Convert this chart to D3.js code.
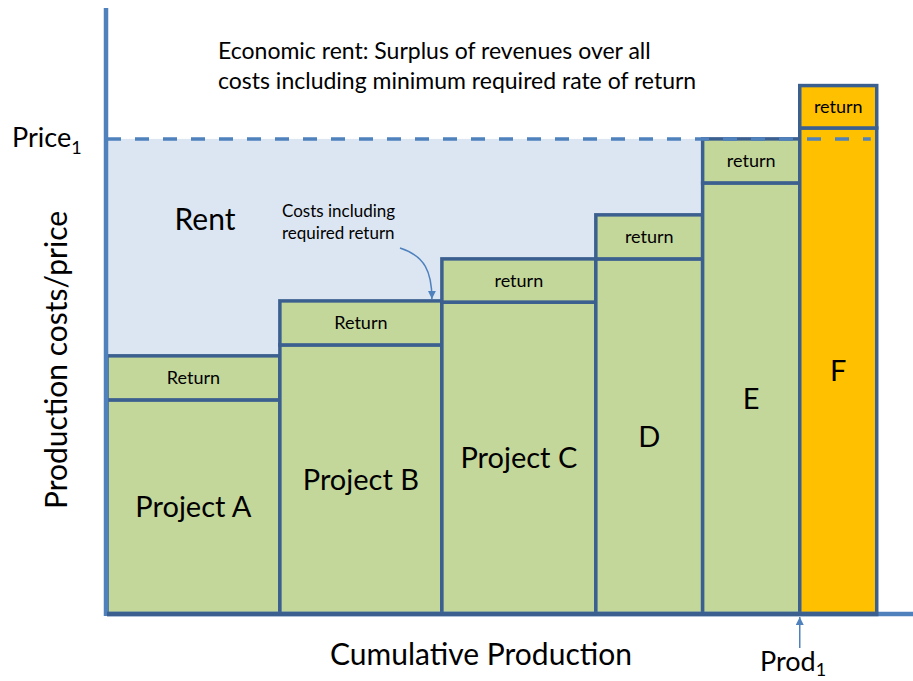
<!DOCTYPE html>
<html>
<head>
<meta charset="utf-8">
<script src="https://cdn.jsdelivr.net/npm/d3@7"></script>
<style>
  body { margin: 0; background: #fff; }
  text { font-family: Lato, "Open Sans", sans-serif; fill: #000; }
</style>
</head>
<body>
<svg id="vis"></svg>
<script>
const svg = d3.select("#vis").attr("width", 913).attr("height", 681);

// projects ordered along the supply curve
const projects = ["Project A", "Project B", "Project C", "D", "E", "F"];
const output = [4.29, 4.02, 3.82, 2.65, 2.41, 1.91];
const cost = [5.3, 6.66, 7.72, 8.79, 10.67, 12.03];
const requiredReturn = [1.09, 1.09, 1.07, 1.09, 1.09, 1.05];
const returnLabels = ["Return", "Return", "return", "return", "return", "return"];
const price1 = 11.76;
const marginalIndex = 5;

const AXIS_COLOR = "#4f81bd";
const EDGE_COLOR = "#3b5f8f";
const GREEN = "#c4d79b";
const ORANGE = "#ffc000";
const RENT_COLOR = "#dce6f2";

let xscale = d3.scaleLinear().domain([0, 20]).range([107, 913]);
let yscale = d3.scaleLinear().domain([0, 15]).range([614, 8]);

const starts = [0, ...d3.cumsum(output)];
const bars = projects.map((p, i) => ({
    name: p,
    x0: starts[i],
    x1: starts[i + 1],
    cost: cost[i],
    ret: requiredReturn[i],
    label: returnLabels[i],
    marginal: i === marginalIndex
}));

svg.append("defs").append("marker")
    .attr("id", "arrow")
    .attr("viewBox", "0 0 10 10")
    .attr("refX", 10).attr("refY", 5)
    .attr("markerWidth", 5.5).attr("markerHeight", 5.5)
    .attr("orient", "auto")
    .append("path")
    .attr("d", "M0,0 L10,5 L0,10 Z")
    .attr("fill", AXIS_COLOR);

function main() {
    drawRent();
    drawBars();
    drawPrice();
    drawAxes();
    drawLabels();
}

function drawRent() {
    // rent area: everything below price left of the marginal producers
    const inframarginal = bars.filter(d => d.cost + d.ret < price1);
    svg.append("rect")
        .attr("x", xscale(0))
        .attr("y", yscale(price1))
        .attr("width", xscale(d3.max(inframarginal, d => d.x1)) - xscale(0))
        .attr("height", yscale(0) - yscale(price1))
        .attr("fill", RENT_COLOR);
}

function drawBars() {
    const g = svg.selectAll(".bar").data(bars).join("g").attr("class", "bar");
    const fill = d => d.marginal ? ORANGE : GREEN;

    g.append("rect")
        .attr("x", d => xscale(d.x0))
        .attr("y", d => yscale(d.cost))
        .attr("width", d => xscale(d.x1) - xscale(d.x0))
        .attr("height", d => yscale(0) - yscale(d.cost))
        .attr("fill", fill)
        .attr("stroke", EDGE_COLOR)
        .attr("stroke-width", 3.5);

    g.append("rect")
        .attr("x", d => xscale(d.x0))
        .attr("y", d => yscale(d.cost + d.ret))
        .attr("width", d => xscale(d.x1) - xscale(d.x0))
        .attr("height", d => yscale(d.cost) - yscale(d.cost + d.ret))
        .attr("fill", fill)
        .attr("stroke", EDGE_COLOR)
        .attr("stroke-width", 3.5);

    g.append("text")
        .attr("x", d => (xscale(d.x0) + xscale(d.x1)) / 2)
        .attr("y", d => yscale(d.cost + d.ret / 2))
        .attr("dy", "0.35em")
        .attr("text-anchor", "middle")
        .style("font-size", "18px")
        .text(d => d.label);

    g.append("text")
        .attr("x", d => (xscale(d.x0) + xscale(d.x1)) / 2)
        .attr("y", d => yscale(d.cost / 2))
        .attr("dy", "0.35em")
        .attr("text-anchor", "middle")
        .style("font-size", "29px")
        .text(d => d.name);
}

function drawPrice() {
    svg.append("line")
        .attr("x1", xscale(0)).attr("x2", xscale(bars[marginalIndex].x1) - 6)
        .attr("y1", yscale(price1)).attr("y2", yscale(price1))
        .attr("stroke", AXIS_COLOR)
        .attr("stroke-width", 3.5)
        .attr("stroke-dasharray", "14,14");
}

function drawAxes() {
    svg.append("line")
        .attr("x1", xscale(0) - 1).attr("x2", xscale(0) - 1)
        .attr("y1", 8).attr("y2", yscale(0) + 2)
        .attr("stroke", AXIS_COLOR).attr("stroke-width", 4.5);
    svg.append("line")
        .attr("x1", xscale(0)).attr("x2", 913)
        .attr("y1", yscale(0)).attr("y2", yscale(0))
        .attr("stroke", AXIS_COLOR).attr("stroke-width", 4.5);
    // redraw bar bottoms over the axis
    svg.append("line")
        .attr("x1", xscale(0)).attr("x2", xscale(bars[marginalIndex].x1) + 1.75)
        .attr("y1", yscale(0)).attr("y2", yscale(0))
        .attr("stroke", EDGE_COLOR).attr("stroke-width", 4.5);
}

function drawLabels() {
    const note = svg.append("text").attr("x", 218).attr("y", 59).style("font-size", "23px");
    note.append("tspan").attr("x", 218).text("Economic rent: Surplus of revenues over all");
    note.append("tspan").attr("x", 218).attr("dy", 30).text("costs including minimum required rate of return");

    const price = svg.append("text").attr("x", 12).attr("y", yscale(price1) + 8).style("font-size", "27px");
    price.append("tspan").text("Price");
    price.append("tspan").attr("dy", 7).style("font-size", "18px").text("1");

    svg.append("text")
        .attr("x", 205).attr("y", 230)
        .attr("text-anchor", "middle")
        .style("font-size", "30px")
        .text("Rent");

    const cost = svg.append("text").attr("x", 282).attr("y", 217).style("font-size", "17px");
    cost.append("tspan").attr("x", 282).text("Costs including");
    cost.append("tspan").attr("x", 282).attr("dy", 22).text("required return");

    const b = bars[1];
    const tipX = xscale(b.x1) - 10;
    const tipY = yscale(b.cost + b.ret) - 2;
    svg.append("path")
        .attr("d", `M400,248 C425,256 ${tipX},272 ${tipX},${tipY}`)
        .attr("fill", "none")
        .attr("stroke", AXIS_COLOR)
        .attr("stroke-width", 1.5)
        .attr("marker-end", "url(#arrow)");

    svg.append("text")
        .attr("transform", "translate(67,360) rotate(-90)")
        .attr("text-anchor", "middle")
        .style("font-size", "30px")
        .text("Production costs/price");

    svg.append("text")
        .attr("x", 481).attr("y", 665)
        .attr("text-anchor", "middle")
        .style("font-size", "30px")
        .text("Cumulative Production");

    const px = xscale(bars[marginalIndex].x0);
    svg.append("line")
        .attr("x1", px).attr("x2", px)
        .attr("y1", 648).attr("y2", yscale(0) + 3)
        .attr("stroke", AXIS_COLOR)
        .attr("stroke-width", 1.5)
        .attr("marker-end", "url(#arrow)");

    const prod = svg.append("text").attr("x", 760).attr("y", 671).style("font-size", "27px");
    prod.append("tspan").text("Prod");
    prod.append("tspan").attr("dy", 5).style("font-size", "18px").text("1");
}

main();
</script>
</body>
</html>
